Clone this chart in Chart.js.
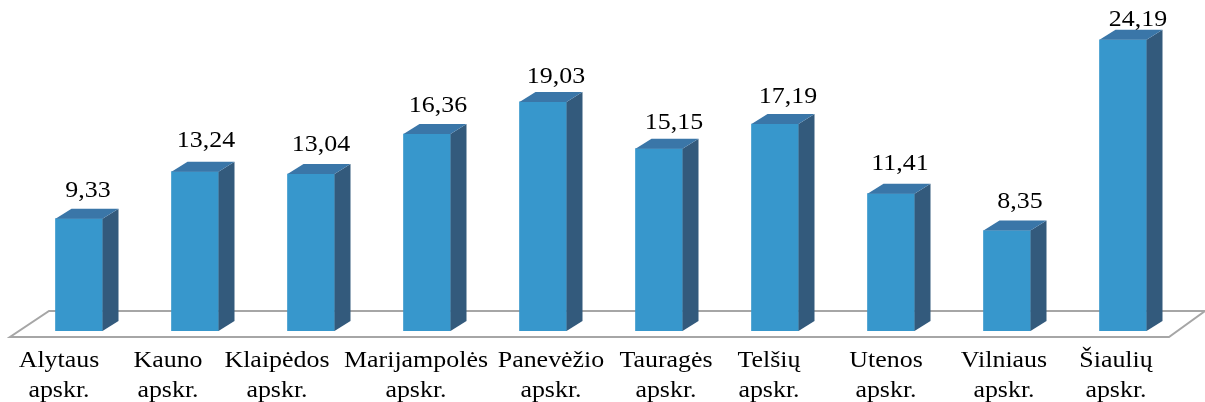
<!DOCTYPE html>
<html>
<head>
<meta charset="utf-8">
<style>
    html, body { margin: 0; padding: 0; background: #fff; overflow: hidden; }
    canvas { display: block; }
</style>
<script src="https://cdn.jsdelivr.net/npm/chart.js@4/dist/chart.umd.min.js"></script>
</head>
<body>
<canvas id="chart" width="1205" height="402"></canvas>
<script>
const counties = ['Alytaus', 'Kauno', 'Klaipėdos', 'Marijampolės', 'Panevėžio', 'Tauragės', 'Telšių', 'Utenos', 'Vilniaus', 'Šiaulių'];
const suffix = 'apskr.';
const values = [9.33, 13.24, 13.04, 16.36, 19.03, 15.15, 17.19, 11.41, 8.35, 24.19];

// the labels in the original were moved by hand, so they sit off the bar centres
const labelShift = [-20, -27, -34, -11, 8, 7, -6, -5, -3, -7];
const valueShiftX = [9, 11, 10, 11, 13, 15, 13, 9, 13, 15];
const valueShiftY = [22, 25, 23, 22, 19, 20, 21, 24, 22, 14];

const depthX = 16;
const depthY = 10;
const SERIF = '"Liberation Serif", serif';

function stretchedText(ctx, text, x, y) {
    ctx.save();
    ctx.translate(x, y);
    ctx.scale(1.08, 1);
    ctx.fillText(text, 0, 0);
    ctx.restore();
}

const bars3d = {
    id: 'bars3d',
    beforeDatasetsDraw(chart) {
        // floor of the 3d plot
        const ctx = chart.ctx;
        const bottom = chart.scales.y.getPixelForValue(0);
        ctx.save();
        ctx.strokeStyle = '#a6a6a6';
        ctx.lineWidth = 2;
        ctx.beginPath();
        ctx.moveTo(1205, bottom - 20);
        ctx.lineTo(49, bottom - 20);
        ctx.lineTo(10, bottom + 6);
        ctx.lineTo(1169, bottom + 6);
        ctx.lineTo(1205, bottom - 20);
        ctx.stroke();
        ctx.restore();
    },
    afterDatasetsDraw(chart) {
        const ctx = chart.ctx;
        const bars = chart.getDatasetMeta(0).data;
        ctx.save();
        bars.forEach((bar, i) => {
            const left = bar.x - bar.width / 2;
            const right = bar.x + bar.width / 2;
            const top = bar.y;
            const bottom = bar.base;

            ctx.fillStyle = '#335a7c';
            ctx.beginPath();
            ctx.moveTo(right, top);
            ctx.lineTo(right + depthX, top - depthY);
            ctx.lineTo(right + depthX, bottom - depthY);
            ctx.lineTo(right, bottom);
            ctx.closePath();
            ctx.fill();

            ctx.fillStyle = '#3a76a8';
            ctx.beginPath();
            ctx.moveTo(left, top);
            ctx.lineTo(left + depthX, top - depthY);
            ctx.lineTo(right + depthX, top - depthY);
            ctx.lineTo(right, top);
            ctx.closePath();
            ctx.fill();

            ctx.fillStyle = '#000';
            ctx.textAlign = 'center';
            ctx.textBaseline = 'alphabetic';
            ctx.font = '24px ' + SERIF;
            stretchedText(ctx, values[i].toFixed(2).replace('.', ','), bar.x + valueShiftX[i], top - valueShiftY[i]);
        });

        ctx.font = '24px ' + SERIF;
        counties.forEach((name, i) => {
            const x = chart.scales.x.getPixelForValue(i) + labelShift[i];
            stretchedText(ctx, name, x, 367);
            stretchedText(ctx, suffix, x, 397);
        });
        ctx.restore();
    }
};

new Chart(document.getElementById('chart'), {
    type: 'bar',
    data: {
        labels: counties,
        datasets: [{
            data: values,
            backgroundColor: '#3797cc',
            barThickness: 47,
            borderWidth: 0
        }]
    },
    options: {
        responsive: false,
        animation: false,
        layout: { padding: { left: 21, right: 24, top: 6, bottom: 71 } },
        plugins: {
            legend: { display: false },
            tooltip: { enabled: false }
        },
        scales: {
            x: { display: false },
            y: { display: false, min: 0, max: 27 }
        }
    },
    plugins: [bars3d]
});
</script>
</body>
</html>
